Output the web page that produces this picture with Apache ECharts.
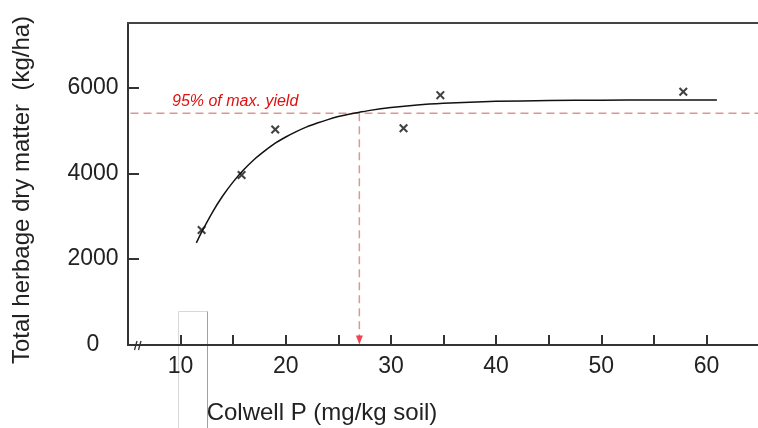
<!DOCTYPE html>
<html>
<head>
<meta charset="utf-8">
<script src="https://cdn.jsdelivr.net/npm/echarts@6/dist/echarts.min.js"></script>
<style>html,body{margin:0;padding:0;background:#fff;}#c{width:758px;height:428px;}</style>
</head>
<body>
<div id="c"></div>
<script>
// Observed data points (Colwell P, yield)
const obsX = [12, 15.8, 19, 31.2, 34.7, 57.8];
const obsY = [2680, 3960, 5020, 5050, 5820, 5900];
// Fitted response curve
const curveX = [11.5, 12, 13, 14, 15, 16, 17, 18, 19, 20, 21, 22, 23, 24, 25, 26, 27, 28, 30, 32.5, 35, 37.5, 40, 45, 50, 55, 61];
const curveY = [2380, 2630, 3080, 3470, 3800, 4080, 4320, 4520, 4700, 4845, 4970, 5080, 5170, 5250, 5320, 5375, 5420, 5465, 5530, 5590, 5630, 5655, 5675, 5695, 5703, 5707, 5709];
// 95% of max yield reference
const yield95 = 5400;
const critP = 27;
const refLineX = [4, 65];
const yTicks = [0, 2000, 4000, 6000];
const xLabels = [10, 20, 30, 40, 50, 60];

const chart = echarts.init(document.getElementById('c'), null, {renderer: 'canvas'});
const font = 'Arial, "Liberation Sans", sans-serif';
const txt = '#222';

chart.setOption({
  animation: false,
  backgroundColor: '#fff',
  grid: {left: 128, top: 23, width: 631, height: 322, show: false, outerBoundsMode: 'none', containLabel: false},
  xAxis: {
    type: 'value', min: 5, max: 65, interval: 5,
    axisLine: {show: true, onZero: false, lineStyle: {color: '#333', width: 2}},
    axisTick: {show: true, inside: true, length: 10, lineStyle: {color: '#333', width: 2}},
    axisLabel: {margin: 10, fontSize: 23, fontFamily: font, color: txt,
      formatter: v => xLabels.indexOf(v) >= 0 ? String(v) : ''},
    splitLine: {show: false}
  },
  yAxis: {
    type: 'value', min: 0, max: 7500, interval: 2000,
    axisLine: {show: true, lineStyle: {color: '#333', width: 2}},
    axisTick: {show: true, inside: true, length: 11, lineStyle: {color: '#333', width: 2}},
    axisLabel: {margin: 35, align: 'center', fontSize: 23, fontFamily: font, color: txt,
      formatter: v => yTicks.indexOf(v) >= 0 ? String(v) : ''},
    splitLine: {show: false}
  },
  graphic: [
    {type: 'line', silent: true, z: 10, shape: {x1: 127, y1: 23, x2: 758, y2: 23}, style: {stroke: '#444', lineWidth: 2}},
    {type: 'polyline', silent: true, z: 0, shape: {points: [[178.5, 428], [178.5, 311.5], [207.5, 311.5]]}, style: {stroke: '#d8d8d8', lineWidth: 1, fill: null}},
    {type: 'line', silent: true, z: 0, shape: {x1: 207.5, y1: 311.5, x2: 207.5, y2: 428}, style: {stroke: '#a0a0a0', lineWidth: 1}},
    {type: 'line', silent: true, z: 10, shape: {x1: 134.5, y1: 350, x2: 137, y2: 341}, style: {stroke: '#333', lineWidth: 1.3}},
    {type: 'line', silent: true, z: 10, shape: {x1: 138.5, y1: 350, x2: 141, y2: 341}, style: {stroke: '#333', lineWidth: 1.3}},
    {type: 'text', silent: true, z: 10, x: 172, y: 102,
      style: {text: '95% of max. yield', fill: '#e01010', font: 'italic 16px ' + font, textAlign: 'left', textVerticalAlign: 'middle'}},
    {type: 'text', silent: true, z: 10, x: 322, y: 413,
      style: {text: 'Colwell P (mg/kg soil)', fill: txt, font: '24px ' + font, textAlign: 'center', textVerticalAlign: 'middle'}},
    {type: 'text', silent: true, z: 10, x: 22, y: 190, rotation: Math.PI / 2,
      style: {text: 'Total herbage dry matter  (kg/ha)', fill: txt, font: '24px ' + font, textAlign: 'center', textVerticalAlign: 'middle'}}
  ],
  series: [
    {
      type: 'line', name: 'ref95', clip: false, symbol: 'none', silent: true,
      data: refLineX.map(x => [x, yield95]),
      lineStyle: {color: '#e09595', width: 1.5, type: [8, 5]}, z: 2
    },
    {
      type: 'line', name: 'crit', symbol: 'none', silent: true,
      data: [[critP, yield95], [critP, 200]],
      lineStyle: {color: '#e09595', width: 1.5, type: [8, 5]}, z: 2
    },
    {
      type: 'scatter', name: 'arrow', silent: true,
      data: [[critP, 0]],
      symbol: 'triangle', symbolRotate: 180, symbolSize: [7, 9], symbolOffset: [0, -5],
      itemStyle: {color: '#e8192c'}, z: 3
    },
    {
      type: 'line', name: 'fit', symbol: 'none', smooth: 0.2, silent: true,
      data: curveX.map((x, i) => [x, curveY[i]]),
      lineStyle: {color: '#111', width: 1.5}, z: 4
    },
    {
      type: 'scatter', name: 'obs', silent: true,
      data: obsX.map((x, i) => [x, obsY[i]]),
      symbol: 'path://M0,1.6L1.6,0L5,3.4L8.4,0L10,1.6L6.6,5L10,8.4L8.4,10L5,6.6L1.6,10L0,8.4L3.4,5Z',
      symbolSize: 9,
      itemStyle: {color: '#111'}, z: 5
    }
  ]
});
</script>
</body>
</html>
